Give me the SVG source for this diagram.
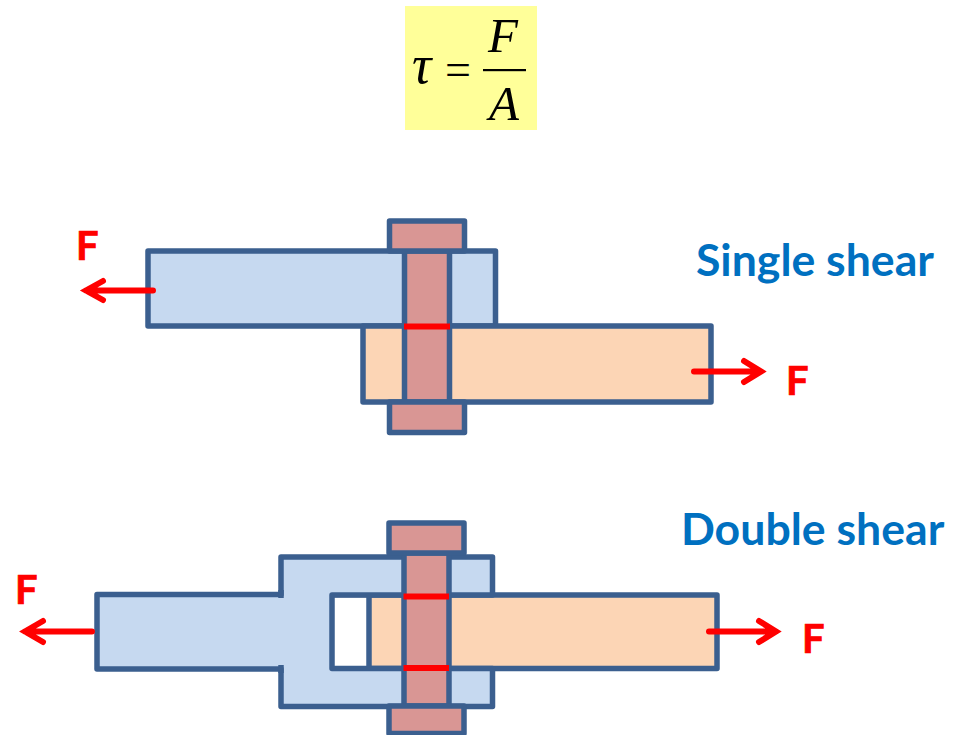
<svg xmlns="http://www.w3.org/2000/svg" width="961" height="735" viewBox="0 0 961 735">
<style>
.p{stroke:#3b5f8f;stroke-width:5.500;stroke-linejoin:round;stroke-linecap:butt}
.b{fill:#c6d9f0}.o{fill:#fcd5b5}.r{fill:#d99694}
.s{stroke:#ff0000;stroke-width:6;fill:none}
.a{stroke:#ff0000;stroke-width:6;fill:none;stroke-linecap:round;stroke-linejoin:miter}
.f{font-family:Lato,"Liberation Sans",sans-serif;font-weight:700;font-size:40px;fill:#ff0000;stroke:#ff0000;stroke-width:.7}
.t{font-family:Lato,"Liberation Sans",sans-serif;font-weight:700;font-size:44.600px;fill:#0070c0}
.m{font-family:"Liberation Serif",serif;font-style:italic;font-size:49px;fill:#000}
</style>
<rect width="961" height="735" fill="#fff"/>
<g id="formula">
<rect x="405" y="6" width="132" height="124" fill="#ffff99"/>
<text class="m" x="412" y="83" style="font-size:54px">τ</text>
<text x="445" y="85" style="font-family:'Liberation Serif',serif;font-size:46px">=</text>
<text class="m" x="488" y="52">F</text>
<rect x="483" y="69" width="43" height="2.200" fill="#000"/>
<text class="m" x="489" y="120">A</text>
</g>
<g id="single-shear">
<rect class="p b" x="148" y="251" width="347.500" height="75"/>
<rect class="p o" x="363" y="326" width="348" height="76"/>
<rect class="p r" x="404.500" y="251" width="45" height="151"/>
<rect class="p r" x="389.500" y="221" width="75" height="30"/>
<rect class="p r" x="389.500" y="402" width="75" height="30.500"/>
<line class="s" x1="404" y1="326.500" x2="450" y2="326.500"/>
</g>
<g id="double-shear">
<rect class="p o" x="332" y="595" width="385" height="73.500"/>
<rect x="334" y="597.500" width="35" height="68.500" fill="#fff"/>
<path class="p b" d="M97 594.500H281V557H492.500V595H332V668.500H492.500V706.500H281V669H97Z"/>
<rect x="278" y="598" width="6" height="68" fill="#c6d9f0"/>
<path class="p" fill="none" d="M281 590V598M281 665V673"/>
<line class="p" x1="369" y1="595" x2="369" y2="668"/>
<rect class="p r" x="404" y="553" width="45" height="153"/>
<rect class="p r" x="389" y="523" width="75" height="30"/>
<rect class="p r" x="389" y="706" width="75" height="27.500"/>
<line class="s" x1="403.500" y1="596.500" x2="449" y2="596.500"/>
<line class="s" x1="403.500" y1="668" x2="449" y2="668"/>
</g>
<g id="connectors">
<path class="a" d="M153 290.500H86M103 281L86 290.500L103 300"/>
<path class="a" d="M694 371.500H760M744 361L761 371.500L744 382"/>
<path class="a" d="M92 631.500H25M43 621L25 631.500L43 642"/>
<path class="a" d="M709 631.500H775M759 621L776 631.500L759 642"/>
</g>
<g id="labels">
<text class="f" x="76" y="260">F</text>
<text class="f" x="786" y="395">F</text>
<text class="f" x="15" y="604">F</text>
<text class="f" x="802" y="653">F</text>
<text class="t" x="696" y="276">Single shear</text>
<text class="t" x="681" y="545">Double shear</text>
</g>
</svg>
